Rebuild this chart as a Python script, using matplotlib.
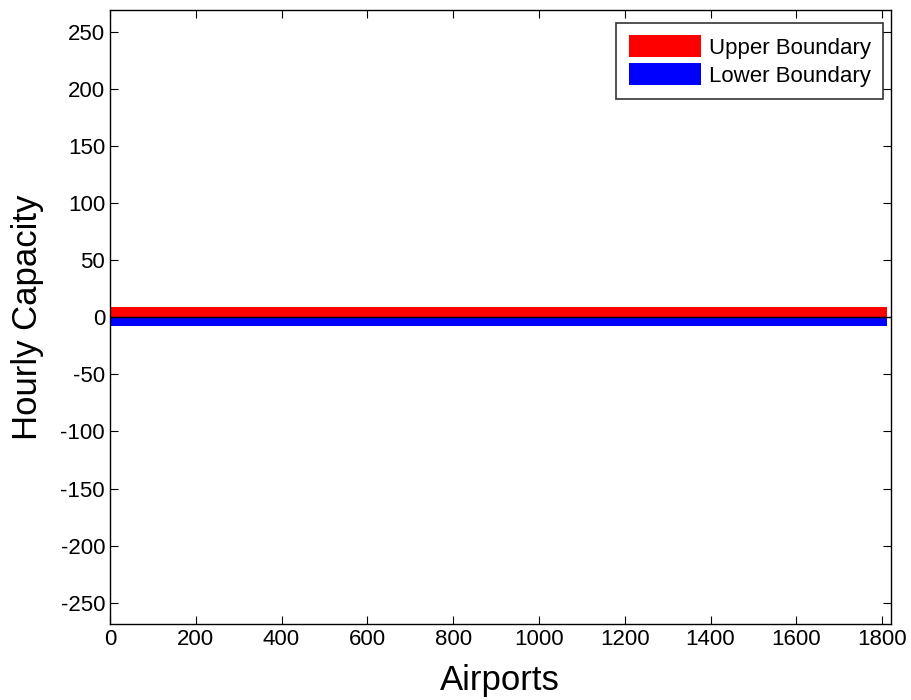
import numpy as np
import matplotlib
matplotlib.use('Agg')
import matplotlib.pyplot as plt

plt.rcParams['font.family'] = ['Liberation Sans', 'DejaVu Sans']
plt.rcParams['axes.unicode_minus'] = False

# data: ~1810 airports, boundaries almost flat
n_airports = 1810
airports = np.arange(1, n_airports + 1)
upper_boundary = np.full(n_airports, 9.0)
upper_boundary[:3] = [12.0, 10.0, 10.0]
lower_boundary = np.full(n_airports, -8.0)
lower_boundary[:3] = [-9.5, -9.0, -9.0]

x_ticks = list(range(0, 1801, 200))
y_ticks = list(range(-250, 251, 50))

fig = plt.figure(figsize=(9.11, 7.0), dpi=100)
ax = fig.add_axes([0.1207, 0.1079, 0.857, 0.878])

ax.bar(airports, upper_boundary, width=1.0, color='#ff0000', edgecolor='none',
       label='Upper Boundary')
ax.bar(airports, lower_boundary, width=1.0, color='#0000ff', edgecolor='none',
       label='Lower Boundary')
ax.axhline(0, color='black', lw=1.0)

ax.set_xlim(0, 1820)
ax.set_ylim(-269, 269)
ax.set_xticks(x_ticks)
ax.set_yticks(y_ticks)
ax.tick_params(direction='in', top=True, right=True, labelsize=16, length=6, width=0.8)
for s in ax.spines.values():
    s.set_linewidth(1.0)

ax.set_xlabel('Airports', fontsize=25, labelpad=10)
ax.set_ylabel('Hourly Capacity', fontsize=25, labelpad=12)

leg = ax.legend(loc='upper right', bbox_to_anchor=(883 / 911, 1 - 22.7 / 700),
                bbox_transform=fig.transFigure, borderaxespad=0,
                fontsize=16, frameon=True, fancybox=False,
                handlelength=3.25, handleheight=1.17, borderpad=0.55,
                handletextpad=0.36, labelspacing=0.2)
leg.get_frame().set_edgecolor('black')
leg.get_frame().set_linewidth(1.2)

fig.savefig('out.png', dpi=100)
